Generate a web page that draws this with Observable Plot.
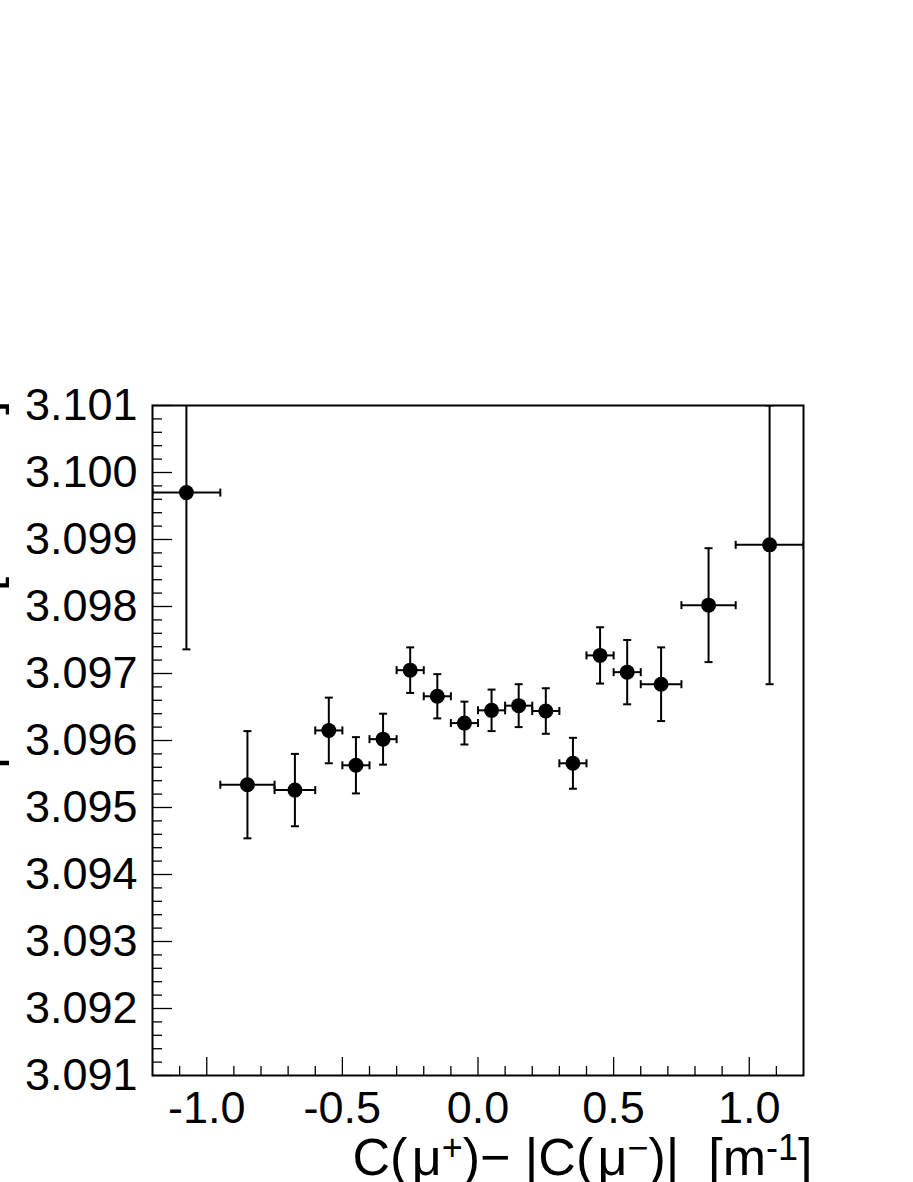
<!DOCTYPE html>
<html>
<head>
<meta charset="utf-8">
<script src="https://cdn.jsdelivr.net/npm/d3@7"></script>
<script src="https://cdn.jsdelivr.net/npm/@observablehq/plot@0.6"></script>
<style>
  html, body { margin: 0; padding: 0; background: #fff; overflow: hidden; }
  svg text { white-space: pre; }
</style>
</head>
<body>
<script>
// ---- data ----
const binCenter = [-1.075, -0.85, -0.675, -0.55, -0.45, -0.35, -0.25, -0.15, -0.05, 0.05, 0.15, 0.25, 0.35, 0.45, 0.55, 0.675, 0.85, 1.075];
const binHalfWidth = [0.125, 0.1, 0.075, 0.05, 0.05, 0.05, 0.05, 0.05, 0.05, 0.05, 0.05, 0.05, 0.05, 0.05, 0.05, 0.075, 0.1, 0.125];
const massValue = [3.09970, 3.09534, 3.09526, 3.09615, 3.09563, 3.09602, 3.09705, 3.09666, 3.09626, 3.09645, 3.09652, 3.09644, 3.09566, 3.09727, 3.09702, 3.09684, 3.09802, 3.09892];
const massError = [0.00234, 0.00080, 0.00054, 0.00049, 0.00042, 0.00038, 0.00034, 0.00033, 0.00032, 0.00031, 0.00032, 0.00034, 0.00038, 0.00042, 0.00048, 0.00055, 0.00085, 0.00208];

const xMajorTicks = [-1.0, -0.5, 0.0, 0.5, 1.0];
const xMinorTicks = [-1.1, -0.9, -0.8, -0.7, -0.6, -0.4, -0.3, -0.2, -0.1, 0.1, 0.2, 0.3, 0.4, 0.6, 0.7, 0.8, 0.9, 1.1];
const yMajorTicks = [3.091, 3.092, 3.093, 3.094, 3.095, 3.096, 3.097, 3.098, 3.099, 3.100, 3.101];
const yMinorTicks = [];
for (const t of yMajorTicks.slice(0, -1)) for (const k of [1, 2, 3, 4]) yMinorTicks.push(+(t + k * 0.0002).toFixed(4));

const xTitleParts = [["C(\u200Aμ", false], ["+", true], [")− |C(\u200Aμ", false], ["−", true], [")|  [m", false], ["-1", true], ["]", false]];
const xTitle = xTitleParts.map(d => d[0]).join("");
const yTitle = "J/ψ mass [GeV/c²]";

const rows = binCenter.map((x, i) => ({
  x, y: massValue[i],
  xlo: x - binHalfWidth[i], xhi: x + binHalfWidth[i],
  ylo: massValue[i] - massError[i], yhi: massValue[i] + massError[i]
}));

const capH = {draw(ctx, size) { const r = Math.sqrt(size / Math.PI); ctx.moveTo(-r, 0); ctx.lineTo(r, 0); }};
const capV = {draw(ctx, size) { const r = Math.sqrt(size / Math.PI); ctx.moveTo(0, -r); ctx.lineTo(0, r); }};

const W = 913, H = 1182;
const mL = 152, mR = 110, mT = 405, mB = 107;
const fw = W - mL - mR, fh = H - mT - mB;

const chart = Plot.plot({
  width: W, height: H,
  marginLeft: mL, marginRight: mR, marginTop: mT, marginBottom: mB,
  style: {fontFamily: "'Liberation Sans', Arial, Helvetica, sans-serif", fontSize: "45px", color: "black", background: "white"},
  x: {domain: [-1.2, 1.2]},
  y: {domain: [3.091, 3.101]},
  marks: [
    // inner ticks
    Plot.ruleY(yMajorTicks, {y: d => d, insetRight: fw - 20, stroke: "black", strokeWidth: 1.3}),
    Plot.ruleY(yMinorTicks, {y: d => d, insetRight: fw - 10, stroke: "black", strokeWidth: 1.3}),
    Plot.ruleX(xMajorTicks, {x: d => d, insetTop: fh - 18, stroke: "black", strokeWidth: 1.3}),
    Plot.ruleX(xMinorTicks, {x: d => d, insetTop: fh - 9, stroke: "black", strokeWidth: 1.3}),
    // tick labels
    Plot.axisY({ticks: yMajorTicks, tickSize: 0, tickPadding: 15, tickFormat: d => d.toFixed(3), label: null}),
    Plot.axisX({ticks: xMajorTicks, tickSize: 0, tickPadding: 16, tickFormat: d => d.toFixed(1), label: null}),
    // error bars
    Plot.ruleX(rows, {x: "x", y1: "ylo", y2: "yhi", stroke: "black", strokeWidth: 2, clip: true}),
    Plot.ruleY(rows, {y: "y", x1: "xlo", x2: "xhi", stroke: "black", strokeWidth: 2, clip: true}),
    Plot.dot(rows, {x: "x", y: "ylo", symbol: capH, r: 4, fill: "none", stroke: "black", strokeWidth: 2, clip: true}),
    Plot.dot(rows, {x: "x", y: "yhi", symbol: capH, r: 4, fill: "none", stroke: "black", strokeWidth: 2, clip: true}),
    Plot.dot(rows, {x: "xlo", y: "y", symbol: capV, r: 4, fill: "none", stroke: "black", strokeWidth: 2, clip: true}),
    Plot.dot(rows, {x: "xhi", y: "y", symbol: capV, r: 4, fill: "none", stroke: "black", strokeWidth: 2, clip: true}),
    Plot.dot(rows, {x: "x", y: "y", r: 7.5, fill: "black", stroke: "none", clip: true}),
    Plot.frame({stroke: "black", strokeWidth: 2}),
    // titles
    Plot.text([xTitle], {text: d => d, frameAnchor: "bottom-right", textAnchor: "end", lineAnchor: "bottom", dx: 9, dy: 99, fontSize: 52}),
    Plot.text([yTitle], {text: d => d, frameAnchor: "top-left", textAnchor: "end", lineAnchor: "bottom", rotate: -90, dx: -155, dy: -5, fontSize: 52})
  ]
});
document.body.appendChild(chart);

// superscripts in the x title
d3.select(chart).selectAll("text").filter(function () { return this.textContent === xTitle; }).each(function () {
  const t = d3.select(this);
  t.text(null);
  let shift = 0;
  for (const [s, sup] of xTitleParts) {
    const span = t.append("tspan").text(s);
    if (sup) { span.attr("dy", -15).attr("font-size", 36); shift = 15; }
    else if (shift) { span.attr("dy", shift); shift = 0; }
  }
});
</script>
</body>
</html>
